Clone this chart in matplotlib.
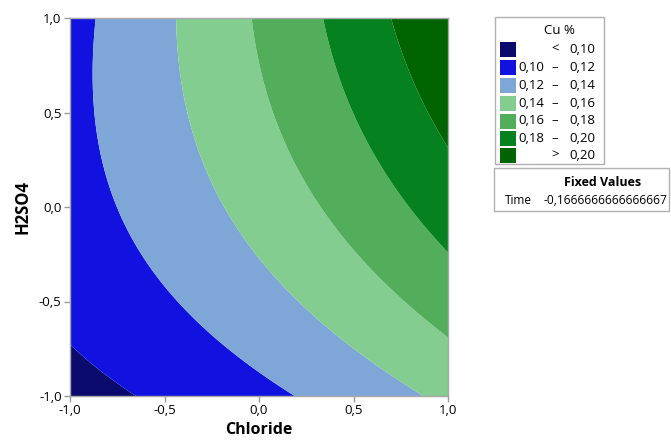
import numpy as np
import matplotlib.pyplot as plt
from matplotlib.patches import Rectangle

plt.rcParams['font.family'] = ['Open Sans', 'DejaVu Sans']

# contour boundary points (Chloride, H2SO4) for each Cu % level
cu010Chloride = [-1.0, -0.859, -0.665]
cu010H2so4 = [-0.73, -0.845, -1.0]
cu012Chloride = [-0.859, -0.873, -0.859, -0.823, -0.709, -0.576, -0.417, -0.223, 0.006, 0.174]
cu012H2so4 = [1.0, 0.688, 0.389, 0.177, -0.140, -0.316, -0.510, -0.686, -0.845, -1.0]
cu014Chloride = [-0.435, -0.409, -0.312, -0.135, 0.147, 0.430, 0.845]
cu014H2so4 = [1.0, 0.565, 0.265, -0.034, -0.440, -0.704, -1.0]
cu016Chloride = [-0.038, 0.024, 0.147, 0.289, 0.571, 1.0]
cu016H2so4 = [1.0, 0.741, 0.300, 0.036, -0.316, -0.677]
cu018Chloride = [0.333, 0.430, 0.571, 0.748, 1.0]
cu018H2so4 = [1.0, 0.635, 0.336, 0.071, -0.237]
cu020Chloride = [0.695, 0.783, 0.924, 1.0]
cu020H2so4 = [1.0, 0.741, 0.477, 0.309]

levelValues = [0.10, 0.12, 0.14, 0.16, 0.18, 0.20]
levelColors = ['#0b0b6e', '#1212e0', '#7ea7d8', '#82cd8f', '#52ae5a', '#05821f', '#006400']
legendLeft = ['', '0,10', '0,12', '0,14', '0,16', '0,18', '']
legendMid = ['<', '–', '–', '–', '–', '–', '>']
legendRight = ['0,10', '0,12', '0,14', '0,16', '0,18', '0,20', '0,20']
fixedTime = '-0,1666666666666667'

ticks = [-1.0, -0.5, 0.0, 0.5, 1.0]

# quadratic response surface fitted through the read boundary points
pointsX = np.concatenate([cu010Chloride, cu012Chloride, cu014Chloride, cu016Chloride, cu018Chloride, cu020Chloride])
pointsY = np.concatenate([cu010H2so4, cu012H2so4, cu014H2so4, cu016H2so4, cu018H2so4, cu020H2so4])
pointsZ = np.concatenate([np.full(len(s), lv) for s, lv in zip(
    [cu010Chloride, cu012Chloride, cu014Chloride, cu016Chloride, cu018Chloride, cu020Chloride], levelValues)])


def design(x, y):
    return np.column_stack([np.ones_like(x), x, y, x * y, x ** 2, y ** 2])


coef, *_ = np.linalg.lstsq(design(pointsX, pointsY), pointsZ, rcond=None)

gx, gy = np.meshgrid(np.linspace(-1, 1, 401), np.linspace(-1, 1, 401))
gz = (design(gx.ravel(), gy.ravel()) @ coef).reshape(gx.shape)

W, H = 671, 445
fig = plt.figure(figsize=(W / 100, H / 100), dpi=100)
ax = fig.add_axes([70 / W, 1 - 396 / H, 378 / W, 378 / H])

bounds = [gz.min() - 1] + levelValues + [gz.max() + 1]
ax.contourf(gx, gy, gz, levels=bounds, colors=levelColors, antialiased=True)

ax.set_xlim(-1, 1)
ax.set_ylim(-1, 1)
ax.set_xticks(ticks)
ax.set_yticks(ticks)
fmt = [f'{t:.1f}'.replace('.', ',') for t in ticks]
ax.set_xticklabels(fmt)
ax.set_yticklabels(fmt)
ax.tick_params(axis='both', labelsize=9.5, length=4, color='#9a9a9a', width=1, pad=2)
for sp in ax.spines.values():
    sp.set_color('#a8a8a8')
    sp.set_linewidth(1)
ax.set_xlabel('Chloride', fontsize=11.5, fontweight='bold', labelpad=3)
ax.set_ylabel('H2SO4', fontsize=12, fontweight='bold', labelpad=5)


def fx(px):
    return px / W


def fy(py):
    return 1 - py / H


# legend box
fig.add_artist(Rectangle((fx(495), fy(164)), (604 - 495) / W, (164 - 17) / H, transform=fig.transFigure,
                         facecolor='white', edgecolor='#b0b0b0', linewidth=1))
fig.text(fx(559), fy(31), 'Cu %', ha='center', va='center', fontsize=9.5)
rowY = [49.5, 67.5, 85.5, 103.5, 121, 138.5, 155.5]
for i, yy in enumerate(rowY):
    fig.add_artist(Rectangle((fx(500), fy(yy + 7.5)), 15.5 / W, 15 / H, transform=fig.transFigure,
                             facecolor=levelColors[i], edgecolor='none'))
    fig.text(fx(544), fy(yy), legendLeft[i], ha='right', va='center', fontsize=9.5)
    fig.text(fx(555), fy(yy), legendMid[i], ha='center', va='center', fontsize=9.5)
    fig.text(fx(595), fy(yy), legendRight[i], ha='right', va='center', fontsize=9.5)

# fixed values box
fig.add_artist(Rectangle((fx(494), fy(211)), (669 - 494) / W, (211 - 168) / H, transform=fig.transFigure,
                         facecolor='white', edgecolor='#b0b0b0', linewidth=1))
fig.text(fx(603), fy(182.5), 'Fixed Values', ha='center', va='center', fontsize=9, fontweight='bold')
fig.text(fx(505), fy(200.5), 'Time', ha='left', va='center', fontsize=8.6)
fig.text(fx(667), fy(200.5), fixedTime, ha='right', va='center', fontsize=8.6)

fig.savefig('out.png', dpi=100)
